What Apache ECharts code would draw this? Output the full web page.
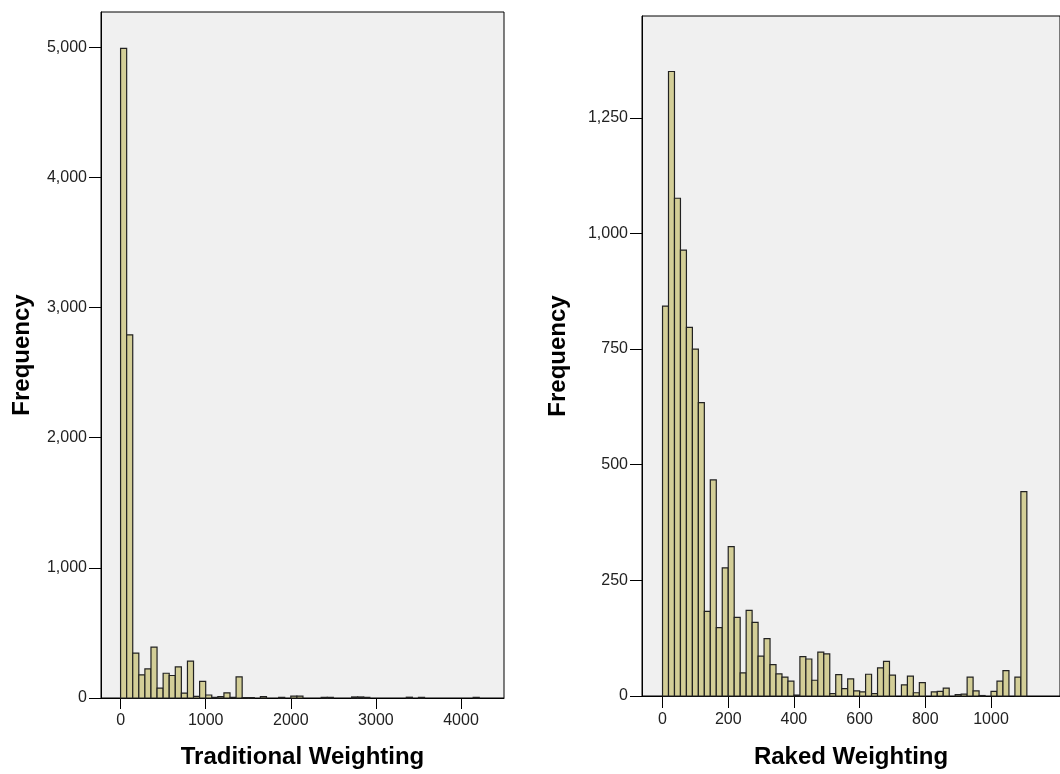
<!DOCTYPE html>
<html>
<head>
<meta charset="utf-8">
<script src="https://cdn.jsdelivr.net/npm/echarts@6/dist/echarts.min.js"></script>
<style>
  html, body { margin: 0; padding: 0; background: #fff; }
  #chart { width: 1060px; height: 774px; }
</style>
</head>
<body>
<div id="chart"></div>
<script>
// Traditional weighting histogram: counts per bin, bins start at 0
var tradBinWidth = 1000 / 14;
var tradCounts = [
  4990, 2790, 345, 178, 223, 391, 76, 190, 173, 239,
  38, 284, 13, 127, 23, 5, 10, 40, 5, 162,
  3, 3, 0, 10, 0, 0, 5, 0, 15, 15,
  0, 0, 0, 5, 5, 0, 0, 0, 8, 8,
  5, 0, 0, 0, 0, 0, 0, 6, 0, 5,
  0, 0, 0, 0, 0, 0, 0, 0, 5
];
var tradXTicks = [0, 1000, 2000, 3000, 4000];
var tradYTicks = [0, 1000, 2000, 3000, 4000, 5000];

// Raked weighting histogram
var rakedBinWidth = 200 / 11;
var rakedCounts = [
  843, 1350, 1076, 964, 797, 750, 634, 183, 467, 148,
  277, 323, 170, 50, 185, 159, 86, 124, 68, 48,
  41, 32, 2, 85, 80, 34, 95, 91, 5, 46,
  16, 37, 11, 9, 47, 5, 61, 75, 45, 0,
  24, 43, 7, 29, 0, 9, 10, 17, 0, 3,
  4, 41, 11, 1, 0, 10, 32, 55, 0, 41,
  442
];
var rakedXTicks = [0, 200, 400, 600, 800, 1000];
var rakedYTicks = [0, 250, 500, 750, 1000, 1250];

function toBins(counts, w) {
  return counts.map(function (c, i) { return [i * w, (i + 1) * w, c]; });
}

function renderBar(params, api) {
  var v = api.value(2);
  if (!v) return null;
  var p0 = api.coord([api.value(0), 0]);
  var p1 = api.coord([api.value(1), v]);
  return {
    type: 'rect',
    shape: { x: p0[0], y: p1[1], width: p1[0] - p0[0], height: p0[1] - p1[1] },
    style: { fill: '#D3CE97', stroke: '#222', lineWidth: 1.2 }
  };
}

var font = 'Liberation Sans, Arial, sans-serif';
var comma = function (v) { return Number(v).toLocaleString('en-US'); };
var plain = function (v) { return String(v); };

function xAxisFor(idx, min, max, ticks, title, gap, margin, tickLen) {
  return {
    type: 'value', gridIndex: idx, min: min, max: max,
    name: title, nameLocation: 'middle', nameGap: gap,
    nameTextStyle: { fontFamily: font, fontWeight: 'bold', fontSize: 24, color: '#000' },
    axisLine: { onZero: false, lineStyle: { color: '#000', width: 1 } },
    axisTick: { customValues: ticks, length: tickLen, lineStyle: { color: '#000' } },
    axisLabel: { customValues: ticks, margin: margin, fontFamily: font, fontSize: 16, color: '#222', formatter: plain },
    splitLine: { show: false }
  };
}

function yAxisFor(idx, max, ticks, gap) {
  return {
    type: 'value', gridIndex: idx, min: 0, max: max,
    name: 'Frequency', nameLocation: 'middle', nameGap: gap,
    nameTextStyle: { fontFamily: font, fontWeight: 'bold', fontSize: 24, color: '#000' },
    axisLine: { show: true, onZero: false, lineStyle: { color: '#000', width: 1 } },
    axisTick: { show: true, customValues: ticks, length: 12, lineStyle: { color: '#000' } },
    axisLabel: { customValues: ticks, margin: 14, fontFamily: font, fontSize: 16, color: '#222', formatter: comma },
    splitLine: { show: false }
  };
}

var chart = echarts.init(document.getElementById('chart'), null, { renderer: 'canvas' });
chart.setOption({
  animation: false,
  backgroundColor: '#fff',
  grid: [
    { left: 101, top: 12, width: 403, height: 691, show: true, backgroundColor: '#F0F0F0', borderColor: '#000', borderWidth: 1 },
    { left: 642, top: 16, width: 438, height: 681, show: true, backgroundColor: '#F0F0F0', borderColor: '#000', borderWidth: 1 }
  ],
  xAxis: [
    xAxisFor(0, -230, 4505, tradXTicks, 'Traditional Weighting', 47, 15, 11),
    xAxisFor(1, -62.5, 1210, rakedXTicks, 'Raked Weighting', 49, 16, 12)
  ],
  yAxis: [
    yAxisFor(0, 5270, tradYTicks, 67),
    yAxisFor(1, 1470, rakedYTicks, 72)
  ],
  series: [
    { type: 'custom', xAxisIndex: 0, yAxisIndex: 0, renderItem: renderBar, encode: { x: [0, 1], y: 2 }, data: toBins(tradCounts, tradBinWidth) },
    { type: 'custom', xAxisIndex: 1, yAxisIndex: 1, renderItem: renderBar, encode: { x: [0, 1], y: 2 }, data: toBins(rakedCounts, rakedBinWidth) }
  ]
});
</script>
</body>
</html>
